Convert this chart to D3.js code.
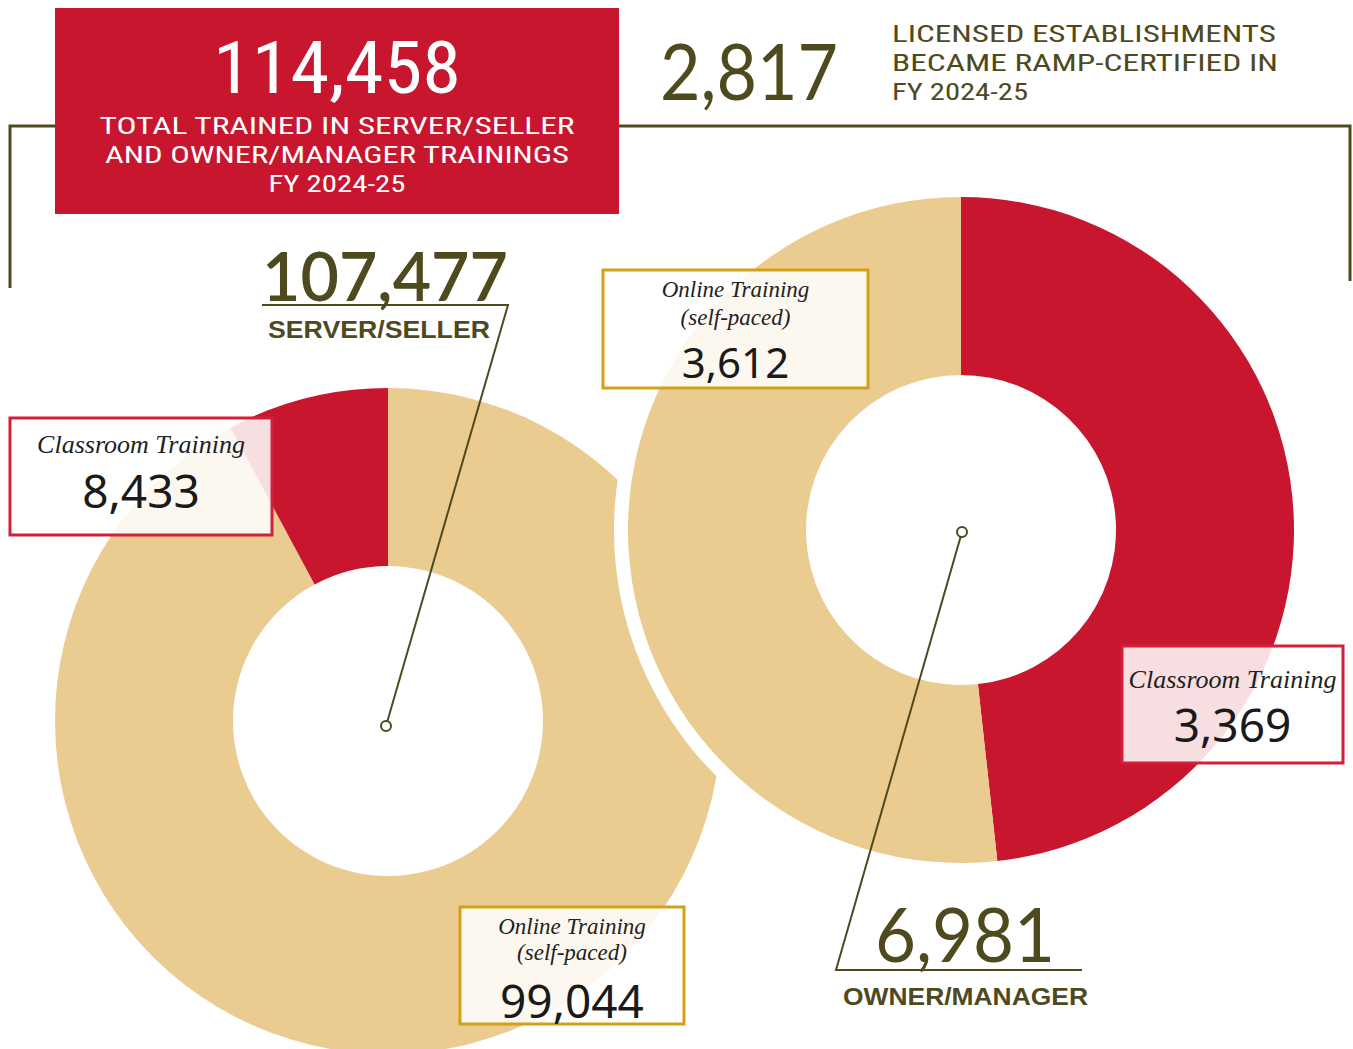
<!DOCTYPE html>
<html>
<head>
<meta charset="utf-8">
<script src="https://cdn.jsdelivr.net/npm/d3@7"></script>
<style>
  body { margin: 0; background: #fff; }
  svg { display: block; }
</style>
</head>
<body>
<div id="chart"></div>
<script>
// data
var totalTrained = 114458;
var establishments = 2817;
var programs = ["SERVER/SELLER", "OWNER/MANAGER"];
var programTotals = [107477, 6981];
var serverCats = ["Online Training", "Classroom Training"];
var serverValues = [99044, 8433];
var ownerCats = ["Classroom Training", "Online Training"];
var ownerValues = [3369, 3612];

var RED = "#c8162f", TAN = "#eacb90", OLIVE = "#4f4a1e", GOLD = "#d4a017";
var fmt = d3.format(",");

var W = 1353, H = 1049;
var svg = d3.select("#chart").append("svg")
    .attr("width", W)
    .attr("height", H);

// frame line behind the header
svg.append("path")
    .attr("d", "M10,288 V126 H1350 V281")
    .attr("fill", "none")
    .attr("stroke", OLIVE)
    .attr("stroke-width", 3);

var color = d3.scaleOrdinal()
    .domain(["Online Training", "Classroom Training"])
    .range([TAN, RED]);

var pie = d3.pie().sort(null).value(function (d) { return d.value; });
var arc = d3.arc().innerRadius(155).outerRadius(333);

function donut(cx, cy, cats, vals, gap) {
  var g = svg.append("g").attr("transform", "translate(" + cx + "," + cy + ")");
  if (gap) {
    g.append("circle").attr("r", 333 + gap).attr("fill", "#fff");
  }
  var rows = cats.map(function (c, i) { return { cat: c, value: vals[i] }; });
  g.selectAll("path")
    .data(pie(rows))
    .enter()
    .append("path")
    .attr("d", arc)
    .attr("fill", function (d) { return color(d.data.cat); });
  return g;
}

donut(388, 721, serverCats, serverValues, 0);
donut(961, 530, ownerCats, ownerValues, 14);

// header red box
svg.append("rect")
    .attr("x", 55).attr("y", 8)
    .attr("width", 564).attr("height", 206)
    .attr("fill", "#c8162f");

var narrow = "'Liberation Sans Narrow', 'Arial Narrow', 'Roboto Condensed', sans-serif";

svg.append("text")
    .attr("x", 337).attr("y", 93)
    .attr("text-anchor", "middle")
    .attr("font-family", narrow)
    .attr("font-size", 72)
    .attr("fill", "#fff")
    .attr("textLength", 248)
    .attr("lengthAdjust", "spacingAndGlyphs")
    .text(fmt(totalTrained));

var headLines = ["TOTAL TRAINED IN SERVER/SELLER", "AND OWNER/MANAGER TRAININGS", "FY 2024-25"];
var headLens = [475, 464, 137];
headLines.forEach(function (t, i) {
  svg.append("text")
    .attr("x", 337).attr("y", 134 + i * 29)
    .attr("text-anchor", "middle")
    .attr("font-family", narrow)
    .attr("font-size", 23)
    .attr("fill", "#fff")
    .attr("textLength", headLens[i])
    .attr("lengthAdjust", "spacingAndGlyphs")
    .text(t);
});

// 2,817 establishments
svg.append("text")
    .attr("x", 660).attr("y", 100)
    .attr("font-family", "Lato, sans-serif")
    .attr("font-size", 78)
    .attr("fill", OLIVE)
    .attr("textLength", 178)
    .attr("lengthAdjust", "spacingAndGlyphs")
    .text(fmt(establishments));

var estLines = ["LICENSED ESTABLISHMENTS", "BECAME RAMP-CERTIFIED IN", "FY 2024-25"];
var estLens = [384, 386, 136];
estLines.forEach(function (t, i) {
  svg.append("text")
    .attr("x", 892).attr("y", 42 + i * 29)
    .attr("font-family", narrow)
    .attr("font-size", 24)
    .attr("fill", OLIVE)
    .attr("textLength", estLens[i])
    .attr("lengthAdjust", "spacingAndGlyphs")
    .text(t);
});

// leader lines + program totals
function leader(pts, cx, cy) {
  svg.append("path")
    .attr("d", d3.line()(pts))
    .attr("fill", "none")
    .attr("stroke", OLIVE)
    .attr("stroke-width", 2);
  svg.append("circle")
    .attr("cx", cx).attr("cy", cy).attr("r", 5)
    .attr("fill", "#fff")
    .attr("stroke", OLIVE)
    .attr("stroke-width", 2);
}

leader([[262, 305], [508, 305], [386, 726]], 386, 726);
leader([[962, 532], [836, 970], [1082, 970]], 962, 532);

svg.append("text")
    .attr("x", 262).attr("y", 301)
    .attr("font-family", "Lato, sans-serif")
    .attr("font-weight", 600)
    .attr("font-size", 68)
    .attr("fill", OLIVE)
    .attr("textLength", 246)
    .attr("lengthAdjust", "spacingAndGlyphs")
    .text(fmt(programTotals[0]));
svg.append("text")
    .attr("x", 268).attr("y", 338)
    .attr("font-family", "'Liberation Sans', Arial, sans-serif")
    .attr("font-weight", "bold")
    .attr("font-size", 23)
    .attr("fill", OLIVE)
    .attr("textLength", 222)
    .attr("lengthAdjust", "spacingAndGlyphs")
    .text(programs[0]);

svg.append("text")
    .attr("x", 875).attr("y", 962)
    .attr("font-family", "Lato, sans-serif")
    .attr("font-size", 76)
    .attr("fill", OLIVE)
    .attr("textLength", 180)
    .attr("lengthAdjust", "spacingAndGlyphs")
    .text(fmt(programTotals[1]));
svg.append("text")
    .attr("x", 843).attr("y", 1005)
    .attr("font-family", "'Liberation Sans', Arial, sans-serif")
    .attr("font-weight", "bold")
    .attr("font-size", 23)
    .attr("fill", OLIVE)
    .attr("textLength", 245)
    .attr("lengthAdjust", "spacingAndGlyphs")
    .text(programs[1]);

// slice label boxes
var serif = "'Liberation Serif', 'DejaVu Serif', serif";
var numFont = "'Noto Sans', 'Open Sans', sans-serif";

function labelBox(x, y, w, h, stroke, lines, value, valueY, lineYs, valueSize) {
  svg.append("rect")
    .attr("x", x).attr("y", y)
    .attr("width", w).attr("height", h)
    .attr("fill", "#fff")
    .attr("fill-opacity", 0.86)
    .attr("stroke", stroke)
    .attr("stroke-width", 3);
  var mid = x + w / 2;
  var fs = lines.length > 1 ? 23 : 26;
  lines.forEach(function (t, i) {
    svg.append("text")
      .attr("x", mid).attr("y", lineYs[i])
      .attr("text-anchor", "middle")
      .attr("font-family", serif)
      .attr("font-style", "italic")
      .attr("font-size", fs)
      .attr("fill", "#222")
      .text(t);
  });
  svg.append("text")
    .attr("x", mid).attr("y", valueY)
    .attr("text-anchor", "middle")
    .attr("font-family", numFont)
    .attr("font-size", valueSize)
    .attr("fill", "#1a1a1a")
    .text(fmt(value));
}

labelBox(10, 418, 262, 117, "#d32039", [serverCats[1]], serverValues[1], 508, [453], 46);
labelBox(460, 907, 224, 117, GOLD, [serverCats[0], "(self-paced)"], serverValues[0], 1018, [934, 960], 46);
labelBox(603, 270, 265, 118, GOLD, [ownerCats[1], "(self-paced)"], ownerValues[1], 378, [297, 325], 42);
labelBox(1122, 646, 221, 117, "#d32039", [ownerCats[0]], ownerValues[0], 742, [688], 46);
</script>
</body>
</html>
